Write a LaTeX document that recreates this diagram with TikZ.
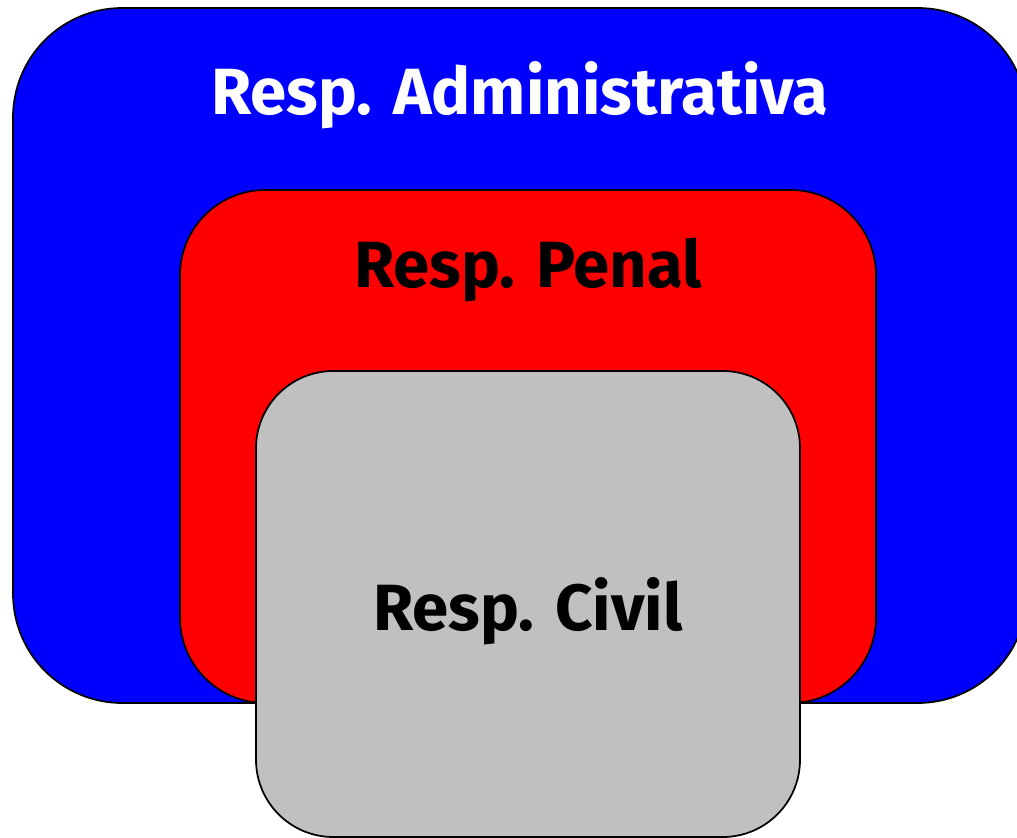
\documentclass[tikz,border=0pt]{standalone}
\usepackage{fontspec}
\setmainfont{Fira Sans}
\usepackage{tikz}
\usetikzlibrary{positioning}
\definecolor{AdmBlue}{RGB}{0,0,255}
\definecolor{PenRed}{RGB}{255,0,0}
\definecolor{CivGray}{RGB}{192,192,192}

\begin{document}
\begin{tikzpicture}[
		x=0.75pt, y=-0.75pt,
		box/.style={draw=black, line width=1.3pt},
		lbl/.style={font=\bfseries\fontsize{49}{59}\selectfont, anchor=base}
		]
		\useasboundingbox (0,0) rectangle (1017,838);
		\clip (0,0) rectangle (1017,838);
		% ===== caixas =====
		\filldraw[box, fill=AdmBlue, rounded corners=82pt] (13,8) rectangle (1027,703);
		\filldraw[box, fill=PenRed, rounded corners=64pt] (180,190) rectangle (876,703);
		\filldraw[box, fill=CivGray, rounded corners=58pt] (256,371) rectangle (800,837);
		
		% ===== textos =====
		\node[lbl, text=white] (admin) at (520,115) {Resp. Administrativa};
		\node[lbl] (penal) at (528,287) {Resp. Penal};
		\node[lbl] (civil) at (528,630) {Resp. Civil};
	\end{tikzpicture}
\end{document}
